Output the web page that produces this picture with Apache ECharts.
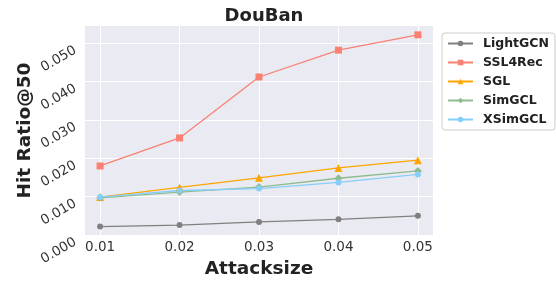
<!DOCTYPE html>
<html>
<head>
<meta charset="utf-8">
<script src="https://cdn.jsdelivr.net/npm/echarts@6/dist/echarts.min.js"></script>
<style>
  html, body { margin: 0; padding: 0; background: #fff; }
  #chart { width: 556px; height: 284px; }
</style>
</head>
<body>
<div id="chart"></div>
<script>
const attackSizes = [0.01, 0.02, 0.03, 0.04, 0.05]
const yTicks = [0, 0.01, 0.02, 0.03, 0.04, 0.05]

const lightgcn = [0.0022, 0.0026, 0.0034, 0.0041, 0.0050]
const ssl4rec = [0.0180, 0.0253, 0.0412, 0.0482, 0.0522]
const sgl = [0.0099, 0.0124, 0.0149, 0.0175, 0.0195]
const simgcl = [0.0097, 0.0112, 0.0125, 0.0148, 0.0167]
const xsimgcl = [0.0099, 0.0116, 0.0121, 0.0137, 0.0158]

const font = 'DejaVu Sans'

function makeSeries(name, values, color, symbol, size) {
  return {
    name: name,
    type: 'line',
    data: attackSizes.map((x, i) => [x, values[i]]),
    symbol: symbol,
    symbolSize: size,
    lineStyle: { color: color, width: 1.3 },
    itemStyle: { color: color },
    emphasis: { disabled: true }
  }
}

const chart = echarts.init(document.getElementById('chart'))

const option = {
  animation: false,
  title: {
    text: 'DouBan',
    left: 259,
    textAlign: 'center',
    top: 2,
    textStyle: { fontFamily: font, fontWeight: 'bold', fontSize: 18, color: '#222' }
  },
  legend: {
    orient: 'vertical',
    left: 442,
    top: 33,
    padding: [4, 6, 4, 5],
    itemWidth: 25,
    itemHeight: 7,
    itemGap: 6,
    backgroundColor: '#fff',
    borderColor: '#cccccc',
    borderWidth: 1,
    borderRadius: 3,
    textStyle: { fontFamily: font, fontWeight: 'bold', fontSize: 12.5, color: '#222', padding: [0, 0, 0, 5] },
    data: ['LightGCN', 'SSL4Rec', 'SGL', 'SimGCL', 'XSimGCL']
  },
  grid: {
    left: 85,
    right: 123,
    top: 26,
    bottom: 44,
    show: true,
    backgroundColor: '#eaeaf2',
    borderWidth: 0
  },
  xAxis: {
    type: 'value',
    min: 0.0081,
    max: 0.0519,
    name: 'Attacksize',
    nameLocation: 'middle',
    nameGap: 25,
    nameMoveOverlap: false,
    nameTextStyle: { fontFamily: font, fontWeight: 'bold', fontSize: 18.5, color: '#222' },
    axisLine: { show: false },
    axisTick: { show: false, customValues: attackSizes },
    axisLabel: {
      customValues: attackSizes,
      margin: 5,
      fontFamily: font,
      fontSize: 13.5,
      color: '#333',
      formatter: v => v.toFixed(2)
    },
    splitLine: { show: true, lineStyle: { color: '#ffffff', width: 1 } }
  },
  yAxis: {
    type: 'value',
    min: 0,
    max: 0.0545,
    interval: 0.01,
    name: 'Hit Ratio@50',
    nameLocation: 'middle',
    nameGap: 50,
    nameMoveOverlap: false,
    nameTextStyle: { fontFamily: font, fontWeight: 'bold', fontSize: 18.5, color: '#222' },
    axisLine: { show: false },
    axisTick: { show: false, customValues: yTicks },
    axisLabel: {
      customValues: yTicks,
      rotate: 30,
      margin: 13,
      verticalAlign: 'top',
      fontFamily: font,
      fontSize: 13.5,
      color: '#333',
      formatter: v => v.toFixed(3)
    },
    splitLine: { show: true, lineStyle: { color: '#ffffff', width: 1 } }
  },
  series: [
    makeSeries('LightGCN', lightgcn, '#808080', 'circle', 6),
    makeSeries('SSL4Rec', ssl4rec, '#fa8072', 'rect', 7),
    makeSeries('SGL', sgl, '#ffa500', 'triangle', 8),
    makeSeries('SimGCL', simgcl, '#8fbc8f', 'diamond', 8),
    makeSeries('XSimGCL', xsimgcl, '#87cefa', 'circle', 6)
  ]
}

chart.setOption(option)
</script>
</body>
</html>
